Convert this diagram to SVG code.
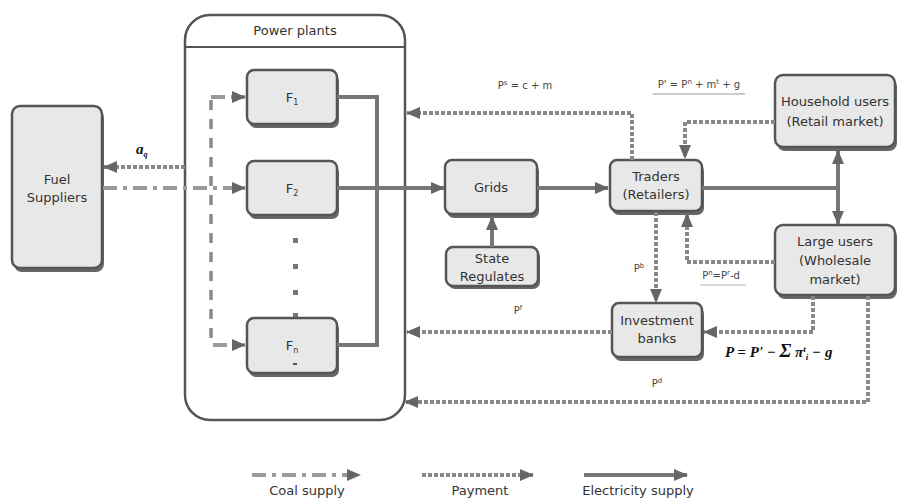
<svg xmlns="http://www.w3.org/2000/svg" width="899" height="500" viewBox="0 0 899 500">
<style>
  .box{fill:#e8e8e8;stroke:#555;stroke-width:2.5}
  .sh{fill:#666}
  .t{font-family:"DejaVu Sans",Verdana,sans-serif;font-size:13px;fill:#333;text-anchor:middle}
  .lbl{font-family:"DejaVu Sans",Verdana,sans-serif;font-size:10px;fill:#444;text-anchor:middle}
  .frm{font-family:"Liberation Serif",serif;font-size:15px;font-weight:bold;font-style:italic;fill:#111}
  .el{fill:none;stroke:#777;stroke-width:4}
  .pay{fill:none;stroke:#888;stroke-width:4;stroke-dasharray:4 2}
  .coal{fill:none;stroke:#9a9a9a;stroke-width:4;stroke-dasharray:14 6 4 6}
  .coalv{fill:none;stroke:#8a8a8a;stroke-width:3.5;stroke-dasharray:10 9}
</style>
<defs>
  <marker id="ah" markerUnits="userSpaceOnUse" markerWidth="14" markerHeight="12" refX="13" refY="6" orient="auto">
    <path d="M0,0 L14,6 L0,12 z" fill="#666"/>
  </marker>
</defs>

<g id="power-plants">
  <rect x="185" y="15" width="220" height="405" rx="25" fill="#fff" stroke="#555" stroke-width="2.5"/>
  <line x1="185" y1="47" x2="405" y2="47" stroke="#555" stroke-width="2"/>
  <text class="t" x="295" y="35">Power plants</text>
</g>

<g id="fuel-suppliers">
  <rect class="sh" x="14" y="110" width="90" height="162" rx="8"/>
  <rect class="box" x="12" y="106" width="90" height="162" rx="8"/>
  <text class="t" x="57" y="184">Fuel</text>
  <text class="t" x="57" y="202">Suppliers</text>
</g>

<g id="f1">
  <rect class="sh" x="249" y="74" width="90" height="54" rx="7"/>
  <rect class="box" x="247" y="70" width="90" height="54" rx="7"/>
  <text class="t" x="292" y="102">F<tspan font-size="8" dy="3">1</tspan></text>
</g>
<g id="f2">
  <rect class="sh" x="249" y="165" width="90" height="54" rx="7"/>
  <rect class="box" x="247" y="161" width="90" height="54" rx="7"/>
  <text class="t" x="292" y="193">F<tspan font-size="8" dy="3">2</tspan></text>
</g>
<g id="dots" fill="#777">
  <rect x="293" y="238" width="5" height="5"/>
  <rect x="293" y="264" width="5" height="5"/>
  <rect x="293" y="290" width="5" height="5"/>
  <rect x="293" y="313" width="5" height="5"/>
</g>
<g id="fn">
  <rect class="sh" x="249" y="322" width="90" height="55" rx="7"/>
  <rect class="box" x="247" y="318" width="90" height="55" rx="7"/>
  <text class="t" x="292" y="350">F<tspan font-size="8" dy="3">n</tspan></text>
  <rect x="293" y="363" width="4" height="2" fill="#555"/>
</g>

<g id="grids">
  <rect class="sh" x="447" y="164" width="92" height="54" rx="7"/>
  <rect class="box" x="445" y="160" width="92" height="54" rx="7"/>
  <text class="t" x="491" y="192">Grids</text>
</g>
<g id="state-regulates">
  <rect class="sh" x="448" y="250" width="92" height="39" rx="7"/>
  <rect class="box" x="446" y="247" width="92" height="39" rx="7"/>
  <text class="t" x="492" y="263">State</text>
  <text class="t" x="492" y="281">Regulates</text>
</g>
<g id="traders">
  <rect class="sh" x="612" y="164" width="92" height="51" rx="7"/>
  <rect class="box" x="610" y="160" width="92" height="51" rx="7"/>
  <text class="t" x="656" y="181">Traders</text>
  <text class="t" x="656" y="199">(Retailers)</text>
</g>
<g id="household-users">
  <rect class="sh" x="777" y="79" width="120" height="72" rx="8"/>
  <rect class="box" x="775" y="75" width="120" height="72" rx="8"/>
  <text class="t" x="835" y="106">Household users</text>
  <text class="t" x="835" y="126">(Retail market)</text>
</g>
<g id="large-users">
  <rect class="sh" x="777" y="229" width="120" height="70" rx="8"/>
  <rect class="box" x="775" y="225" width="120" height="70" rx="8"/>
  <text class="t" x="835" y="246">Large users</text>
  <text class="t" x="835" y="265">(Wholesale</text>
  <text class="t" x="835" y="284">market)</text>
</g>
<g id="investment-banks">
  <rect class="sh" x="614" y="307" width="90" height="54" rx="7"/>
  <rect class="box" x="612" y="303" width="90" height="54" rx="7"/>
  <text class="t" x="657" y="325">Investment</text>
  <text class="t" x="657" y="343">banks</text>
</g>

<g id="connectors">
  <path class="coal" d="M103,188 H245" marker-end="url(#ah)"/>
  <path class="coalv" d="M211,100 V345"/>
  <path class="coal" d="M211,97 H245" marker-end="url(#ah)"/>
  <path class="coal" d="M213,345 H245" marker-end="url(#ah)"/>
  <path class="el" d="M337,97 H377 V345 H337"/>
  <path class="el" d="M337,188 H444" marker-end="url(#ah)"/>
  <path class="el" d="M537,188 H608" marker-end="url(#ah)"/>
  <path class="el" d="M492,247 V217" marker-end="url(#ah)"/>
  <path class="el" d="M702,188 H838"/>
  <path class="el" d="M838,188 V151" marker-end="url(#ah)"/>
  <path class="el" d="M838,188 V224" marker-end="url(#ah)"/>
  <path class="pay" d="M632,160 V113 H407" marker-end="url(#ah)"/>
  <path class="pay" d="M775,122 H685 V158" marker-end="url(#ah)"/>
  <path class="pay" d="M775,262 H687 V214" marker-end="url(#ah)"/>
  <path class="pay" d="M656,212 V302" marker-end="url(#ah)"/>
  <path class="pay" d="M612,332 H407" marker-end="url(#ah)"/>
  <path class="pay" d="M813,296 V332 H704" marker-end="url(#ah)"/>
  <path class="pay" d="M868,296 V402 H405" marker-end="url(#ah)"/>
  <path class="pay" d="M185,167 H104" marker-end="url(#ah)"/>
</g>

<g id="labels">
  <text class="lbl" x="525" y="89">P<tspan font-size="7" dy="-4">s</tspan><tspan dy="4"> = c + m</tspan></text>
  <text class="lbl" x="699" y="88">P' = P<tspan font-size="7" dy="-4">n</tspan><tspan dy="4"> + m</tspan><tspan font-size="7" dy="-4">t</tspan><tspan dy="4"> + g</tspan></text>
  <line x1="653" y1="94" x2="745" y2="94" stroke="#ccc" stroke-width="2"/>
  <text class="lbl" x="721" y="279">P<tspan font-size="7" dy="-4">n</tspan><tspan dy="4">=P</tspan><tspan font-size="7" dy="-4">r</tspan><tspan dy="4">-d</tspan></text>
  <line x1="700" y1="285" x2="746" y2="285" stroke="#ccc" stroke-width="1.5"/>
  <text class="lbl" x="639" y="272">P<tspan font-size="7" dy="-4">b</tspan></text>
  <text class="lbl" x="518" y="314">P<tspan font-size="7" dy="-4">f</tspan></text>
  <text class="lbl" x="657" y="387">P<tspan font-size="7" dy="-4">d</tspan></text>
  <text class="frm" x="725" y="357">P = P' − <tspan font-size="19">Σ</tspan> π<tspan font-size="9" dy="-5">t</tspan><tspan font-size="9" dy="8">i</tspan><tspan dy="-3"> − g</tspan></text>
  <text class="frm" x="136" y="154" font-size="11">a<tspan font-size="8" dy="3">q</tspan></text>
</g>

<g id="legend">
  <path class="coal" d="M252,475 H360" marker-end="url(#ah)"/>
  <path class="pay" d="M422,475 H533" marker-end="url(#ah)"/>
  <path class="el" d="M584,475 H687" marker-end="url(#ah)"/>
  <text class="t" x="307" y="495">Coal supply</text>
  <text class="t" x="480" y="495">Payment</text>
  <text class="t" x="638" y="495">Electricity supply</text>
</g>
</svg>
